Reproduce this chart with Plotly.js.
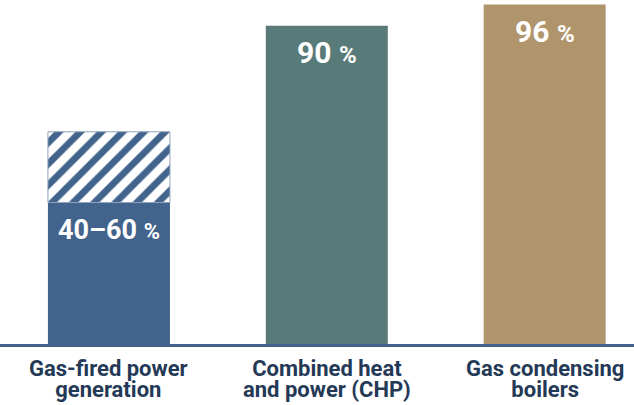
<!DOCTYPE html>
<html>
<head>
<meta charset="utf-8">
<script src="https://cdn.plot.ly/plotly-3.0.1.min.js"></script>
<style>html,body{margin:0;padding:0;background:#fff;}#chart{width:634px;height:405px;}</style>
</head>
<body>
<div id="chart"></div>
<script>
// ---- data ----
const categories = ['Gas-fired power<br>generation', 'Combined heat<br>and power (CHP)', 'Gas condensing<br>boilers'];
const efficiencyMin = [40, 90, 96];   // % (solid part)
const efficiencyMax = [60, 90, 96];   // % (upper end of range, hatched)
const unit = '%';

// ---- styles ----
const barColors = ['#42648c', '#587a78', '#b0956c'];
const labelSizes = [27, 30, 30];
const textColor = '#243956';
const FONT = 'Roboto, "Liberation Sans", Arial, sans-serif';

const xs = categories.map((c, i) => i);

const solid = {
  type: 'bar', x: xs, y: efficiencyMin, width: 0.56,
  marker: {color: barColors, line: {width: 0}},
  hoverinfo: 'skip'
};

const rangeIdx = xs.filter(i => efficiencyMax[i] > efficiencyMin[i]);
const hatched = {
  type: 'bar',
  x: rangeIdx,
  y: rangeIdx.map(i => efficiencyMax[i] - efficiencyMin[i]),
  base: rangeIdx.map(i => efficiencyMin[i]),
  width: 0.56,
  marker: {
    color: 'white',
    line: {width: 1, color: '#8ea3bb'},
    pattern: {shape: '/', bgcolor: 'white', fgcolor: barColors[0], size: 15, solidity: 0.45, fillmode: 'replace'}
  },
  hoverinfo: 'skip'
};

const annotations = [];
xs.forEach(i => {
  const lo = efficiencyMin[i], hi = efficiencyMax[i];
  const num = lo === hi ? `${lo}` : `${lo}–${hi}`;
  const pct = Math.round(labelSizes[i] * 0.8);
  annotations.push({
    x: i, y: lo, xref: 'x', yref: 'y', yanchor: 'middle', xanchor: 'center',
    yshift: -27, showarrow: false,
    text: `${num} <span style="font-size:${pct}px">${unit}</span>`,
    font: {family: FONT, size: labelSizes[i], color: 'white', weight: 700}
  });
  annotations.push({
    x: i, y: 0, xref: 'x', yref: 'paper', yanchor: 'top', xanchor: 'center',
    yshift: -10, showarrow: false, text: categories[i], name: 'catlabel',
    font: {family: FONT, size: 22, color: textColor, weight: 700}
  });
});

const layout = {
  width: 634, height: 405,
  margin: {l: 0, r: 0, t: 0, b: 61, pad: 0},
  paper_bgcolor: 'white', plot_bgcolor: 'white',
  showlegend: false,
  barmode: 'overlay',
  xaxis: {
    range: [-0.5, 2.41], showticklabels: false, ticks: '', showgrid: false, zeroline: false,
    showline: true, linecolor: '#42648c', linewidth: 3, fixedrange: true
  },
  yaxis: {
    range: [0, 97.26], visible: false, showgrid: false, zeroline: false, fixedrange: true
  },
  annotations: annotations
};

Plotly.newPlot('chart', [solid, hatched], layout, {displayModeBar: false, staticPlot: true}).then(gd => {
  // tighten the line spacing of the two-line category labels
  gd.querySelectorAll('.annotation-text tspan.line').forEach(t => {
    if (t.getAttribute('dy') === '1.3em') t.setAttribute('dy', '0.95em');
  });
});
</script>
</body>
</html>
